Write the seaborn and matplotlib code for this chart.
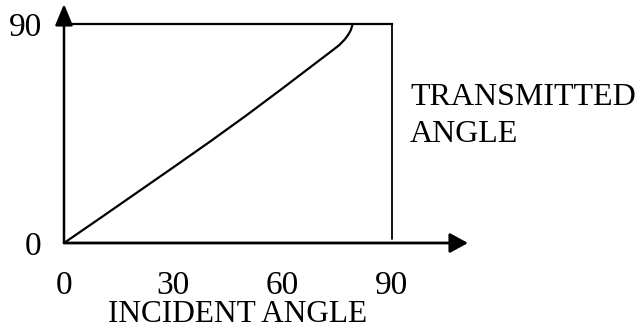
import matplotlib
matplotlib.use("Agg")
import matplotlib.pyplot as plt
import seaborn as sns
import pandas as pd

# Data
incident = [0, 10, 20, 30, 40, 50, 60, 65, 70, 73, 75.5, 77, 78, 78.7, 79.05, 79.2]
transmitted = [0, 10.3, 20.7, 31.1, 41.6, 52.4, 63.6, 69.3, 75.0, 78.4, 81.3, 83.6, 85.6, 87.5, 89.2, 90]
x_ticks = [0, 30, 60, 90]
y_ticks = [0, 90]
x_label = "INCIDENT ANGLE"
y_label_lines = ["TRANSMITTED", "ANGLE"]

sns.set_style("white")
plt.rcParams["font.family"] = ["Liberation Serif", "DejaVu Serif"]

W, H = 638, 335
fig = plt.figure(figsize=(W / 100, H / 100), dpi=100)
fig.patch.set_facecolor("white")

x0, x1, y_top, y_bot = 64, 392, 24, 243
ax = fig.add_axes([x0 / W, (H - y_bot) / H, (x1 - x0) / W, (y_bot - y_top) / H])

df = pd.DataFrame({"incident": incident, "transmitted": transmitted})
sns.lineplot(data=df, x="incident", y="transmitted", ax=ax, color="black",
             linewidth=1.6, sort=False, estimator=None)

ax.set_xlim(0, 90)
ax.set_ylim(0, 90)
ax.set_xlabel("")
ax.set_ylabel("")

for s in ["left", "bottom", "right"]:
    ax.spines[s].set_visible(False)
ax.spines["top"].set_color("black")
ax.spines["top"].set_linewidth(1.6)
ax.axvline(90, ymin=0.02, ymax=1, color="black", linewidth=1.3, clip_on=False)

ax.set_xticks(x_ticks)
ax.set_xticklabels([str(v) for v in x_ticks])
ax.set_yticks(y_ticks)
ax.set_yticklabels([str(v) for v in y_ticks])
ax.tick_params(axis="both", length=0, labelsize=24, colors="black")
ax.tick_params(axis="x", pad=20)
ax.tick_params(axis="y", pad=16)
ax.grid(False)

# Axis arrows
ax.annotate("", xy=((468 - x0) / (x1 - x0), 0), xytext=(0, 0),
            xycoords="axes fraction", textcoords="axes fraction",
            arrowprops=dict(arrowstyle="-|>,head_length=0.55,head_width=0.3",
                            mutation_scale=20, lw=2.0, color="black",
                            shrinkA=0, shrinkB=0), annotation_clip=False)
ax.annotate("", xy=(0, (y_bot - 4) / (y_bot - y_top)), xytext=(0, 0),
            xycoords="axes fraction", textcoords="axes fraction",
            arrowprops=dict(arrowstyle="-|>,head_length=0.65,head_width=0.27",
                            mutation_scale=20, lw=1.8, color="black",
                            shrinkA=0, shrinkB=0), annotation_clip=False)

fig.text(238 / W, (H - 322) / H, x_label, ha="center", va="baseline",
         fontsize=22.5, color="black")
fig.text(410 / W, (H - 105) / H, y_label_lines[0], ha="left", va="baseline",
         fontsize=23, color="black")
fig.text(410 / W, (H - 142) / H, y_label_lines[1], ha="left", va="baseline",
         fontsize=23, color="black")

fig.savefig("out.png", dpi=100, facecolor="white")
